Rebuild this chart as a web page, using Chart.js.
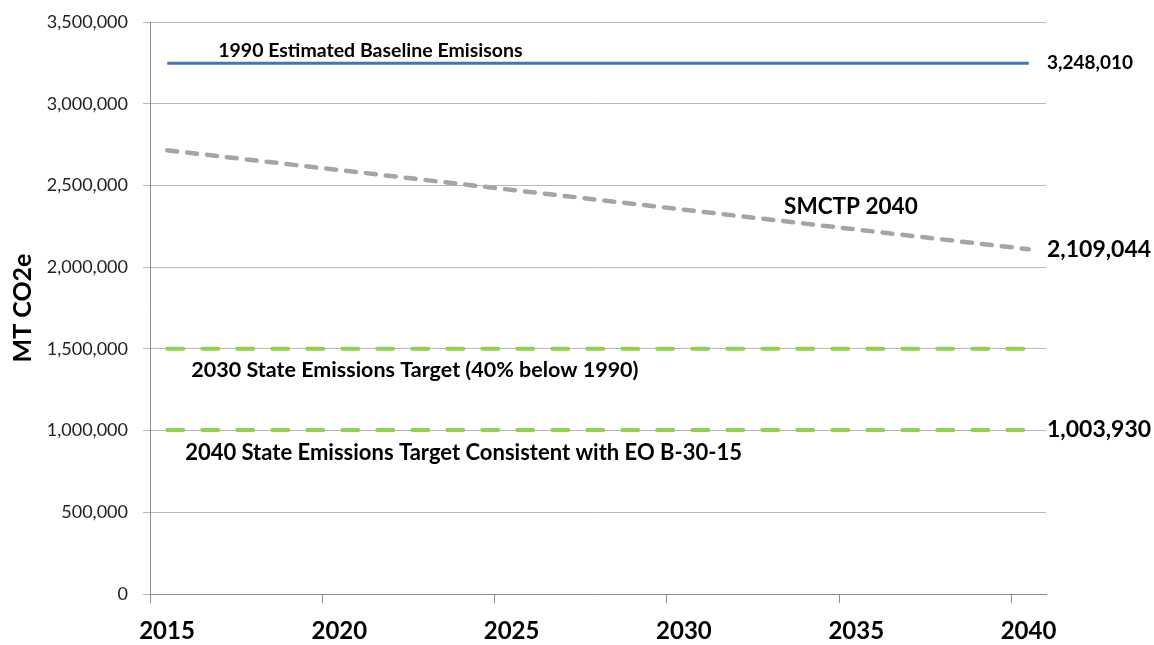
<!DOCTYPE html>
<html>
<head>
<meta charset="utf-8">
<script src="https://cdn.jsdelivr.net/npm/chart.js@4/dist/chart.umd.min.js"></script>
<style>
  html, body { margin:0; padding:0; background:#fff; }
  #wrap { width:1154px; height:645px; }
</style>
</head>
<body>
<div id="wrap"><canvas id="emissions" width="1154" height="645"></canvas></div>
<script>
/* ---- data ---- */
const tickYears   = [2015, 2020, 2025, 2030, 2035, 2040];
const seriesYears = [2015, 2040];
const baseline1990 = [3248010, 3248010];
const smctp2040    = [2715000, 2109044];
const target2030   = [1500000, 1500000];
const target2040   = [1003930, 1003930];
const yTicks = [0, 500000, 1000000, 1500000, 2000000, 2500000, 3000000, 3500000];

const FONT = "Lato, 'Open Sans', 'DejaVu Sans', sans-serif";
const fmt = v => v.toLocaleString('en-US');

// each year is a category slot; points sit in the middle of the slot
const pts = vals => vals.map((v,i)=>({ x: seriesYears[i] + 0.5, y: v }));

/* free text labels (position in data units) */
const notes = [
  { text:'1990 Estimated Baseline Emisisons', x:2016.98, y:3286000, size:19.5 },
  { text:'SMCTP 2040', x:2033.4, y:2325000, size:22.5 },
  { text:'2030 State Emissions Target (40% below 1990)', x:2016.2, y:1328000, size:21.5 },
  { text:'2040 State Emissions Target Consistent with EO B-30-15', x:2016.02, y:820000, size:22 },
];

const labelPlugin = {
  id:'labels',
  afterDatasetsDraw(chart){
    const {ctx, scales:{x, y}, chartArea} = chart;
    ctx.save();
    ctx.fillStyle = '#000';
    ctx.textAlign = 'left';
    ctx.textBaseline = 'alphabetic';
    notes.forEach(n=>{
      ctx.font = `bold ${n.size}px ${FONT}`;
      ctx.fillText(n.text, x.getPixelForValue(n.x), y.getPixelForValue(n.y));
    });
    // end-of-line values
    ctx.textBaseline = 'middle';
    chart.data.datasets.forEach(ds=>{
      if(!ds.endLabel) return;
      const v = ds.data[ds.data.length-1].y;
      ctx.font = `bold ${ds.endLabel}px ${FONT}`;
      ctx.fillText(fmt(v), chartArea.right + 1, y.getPixelForValue(v));
    });
    ctx.restore();
  }
};

new Chart(document.getElementById('emissions'), {
  type:'line',
  data:{
    datasets:[
      { label:'1990 Estimated Baseline Emissions', data:pts(baseline1990),
        borderColor:'#4472C4', borderWidth:3, endLabel:19 },
      { label:'SMCTP 2040', data:pts(smctp2040),
        borderColor:'#A5A5A5', borderWidth:4.5, borderDash:[10,10], borderCapStyle:'round', endLabel:23 },
      { label:'2030 State Emissions Target', data:pts(target2030),
        borderColor:'#92D050', borderWidth:4, borderDash:[16,19], borderCapStyle:'round' },
      { label:'2040 State Emissions Target', data:pts(target2040),
        borderColor:'#92D050', borderWidth:4, borderDash:[16,19], borderCapStyle:'round', endLabel:23 },
    ],
  },
  options:{
    responsive:false,
    animation:false,
    layout:{ padding:{ top:0, right:108, left:0, bottom:0 } },
    elements:{ point:{ radius:0 }, line:{ tension:0 } },
    plugins:{ legend:{ display:false }, tooltip:{ enabled:false } },
    scales:{
      x:{
        type:'linear', min:2015, max:2041,
        afterBuildTicks: s => { s.ticks = tickYears.map(v=>({ value:v })); },
        afterFit: s => { s.height = 51; },
        border:{ color:'#8C8C8C' },
        grid:{ drawOnChartArea:false, drawTicks:true, tickLength:9, color:'#8C8C8C' },
        ticks:{ color:'#000', font:{ family:FONT, size:24, weight:'bold' }, padding:14, labelOffset:17,
                callback: v => String(v), maxRotation:0 },
      },
      y:{
        min:0, max:3500000,
        afterBuildTicks: s => { s.ticks = yTicks.map(v=>({ value:v })); },
        afterFit: s => { s.width = 150; s.paddingTop = 22; },
        border:{ color:'#8C8C8C' },
        grid:{ color:'#B8B8B8', tickLength:7 },
        ticks:{ color:'#222', font:{ family:FONT, size:18, lineHeight:1 }, padding:15, callback: v => fmt(v) },
        title:{ display:true, text:'MT CO2e', color:'#000', font:{ family:FONT, size:25, weight:'bold' }, padding:{ top:8 } },
      },
    },
  },
  plugins:[labelPlugin],
});
</script>
</body>
</html>
